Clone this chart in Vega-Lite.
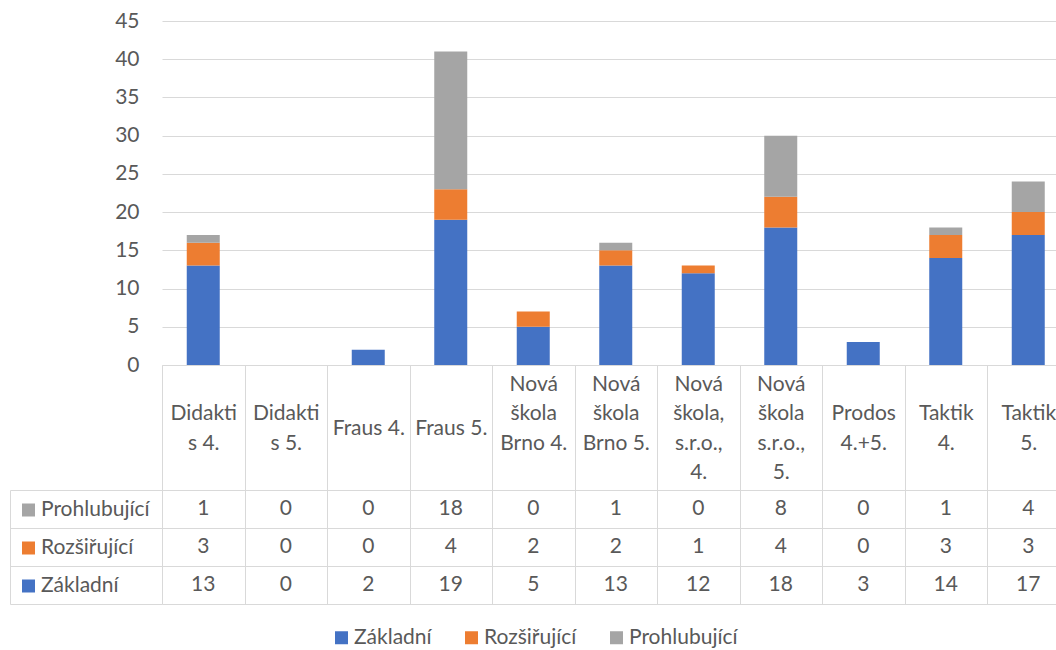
{
  "$schema": "https://vega.github.io/schema/vega-lite/v6.json",
  "width": 894,
  "height": 344,
  "autosize": {"type": "none"},
  "padding": {"left": 162, "top": 21, "right": 0, "bottom": 285},
  "config": {
    "view": {"stroke": null},
    "font": "Lato",
    "text": {"font": "Lato"}
  },
  "data": {
    "values": [
      {"kat": "Didaktis 4.", "serie": "Základní", "hodnota": 13},
      {"kat": "Didaktis 4.", "serie": "Rozšiřující", "hodnota": 3},
      {"kat": "Didaktis 4.", "serie": "Prohlubující", "hodnota": 1},
      {"kat": "Didaktis 5.", "serie": "Základní", "hodnota": 0},
      {"kat": "Didaktis 5.", "serie": "Rozšiřující", "hodnota": 0},
      {"kat": "Didaktis 5.", "serie": "Prohlubující", "hodnota": 0},
      {"kat": "Fraus 4.", "serie": "Základní", "hodnota": 2},
      {"kat": "Fraus 4.", "serie": "Rozšiřující", "hodnota": 0},
      {"kat": "Fraus 4.", "serie": "Prohlubující", "hodnota": 0},
      {"kat": "Fraus 5.", "serie": "Základní", "hodnota": 19},
      {"kat": "Fraus 5.", "serie": "Rozšiřující", "hodnota": 4},
      {"kat": "Fraus 5.", "serie": "Prohlubující", "hodnota": 18},
      {"kat": "Nová škola Brno 4.", "serie": "Základní", "hodnota": 5},
      {"kat": "Nová škola Brno 4.", "serie": "Rozšiřující", "hodnota": 2},
      {"kat": "Nová škola Brno 4.", "serie": "Prohlubující", "hodnota": 0},
      {"kat": "Nová škola Brno 5.", "serie": "Základní", "hodnota": 13},
      {"kat": "Nová škola Brno 5.", "serie": "Rozšiřující", "hodnota": 2},
      {"kat": "Nová škola Brno 5.", "serie": "Prohlubující", "hodnota": 1},
      {"kat": "Nová škola, s.r.o., 4.", "serie": "Základní", "hodnota": 12},
      {"kat": "Nová škola, s.r.o., 4.", "serie": "Rozšiřující", "hodnota": 1},
      {"kat": "Nová škola, s.r.o., 4.", "serie": "Prohlubující", "hodnota": 0},
      {"kat": "Nová škola s.r.o., 5.", "serie": "Základní", "hodnota": 18},
      {"kat": "Nová škola s.r.o., 5.", "serie": "Rozšiřující", "hodnota": 4},
      {"kat": "Nová škola s.r.o., 5.", "serie": "Prohlubující", "hodnota": 8},
      {"kat": "Prodos 4.+5.", "serie": "Základní", "hodnota": 3},
      {"kat": "Prodos 4.+5.", "serie": "Rozšiřující", "hodnota": 0},
      {"kat": "Prodos 4.+5.", "serie": "Prohlubující", "hodnota": 0},
      {"kat": "Taktik 4.", "serie": "Základní", "hodnota": 14},
      {"kat": "Taktik 4.", "serie": "Rozšiřující", "hodnota": 3},
      {"kat": "Taktik 4.", "serie": "Prohlubující", "hodnota": 1},
      {"kat": "Taktik 5.", "serie": "Základní", "hodnota": 17},
      {"kat": "Taktik 5.", "serie": "Rozšiřující", "hodnota": 3},
      {"kat": "Taktik 5.", "serie": "Prohlubující", "hodnota": 4}
    ]
  },
  "layer": [
    {
      "mark": {"type": "bar"},
      "encoding": {
        "x": {
          "field": "kat",
          "type": "nominal",
          "sort": null,
          "scale": {"range": [0, 907.5], "paddingInner": 0.6, "paddingOuter": 0.3},
          "axis": null
        },
        "y": {
          "field": "hodnota",
          "type": "quantitative",
          "aggregate": "sum",
          "stack": "zero",
          "scale": {"domain": [0, 45], "nice": false},
          "axis": {
            "title": null,
            "orient": "left",
            "values": [0, 5, 10, 15, 20, 25, 30, 35, 40, 45],
            "grid": true,
            "gridColor": "#d9d9d9",
            "gridWidth": 1,
            "domain": false,
            "ticks": false,
            "labelPadding": 23,
            "labelFontSize": 21,
            "labelColor": "#595959"
          }
        },
        "color": {
          "field": "serie",
          "type": "nominal",
          "sort": ["Základní", "Rozšiřující", "Prohlubující"],
          "scale": {
            "domain": ["Základní", "Rozšiřující", "Prohlubující"],
            "range": ["#4472C4", "#ED7D31", "#A5A5A5"]
          },
          "legend": {
            "title": null,
            "orient": "none",
            "direction": "horizontal",
            "legendX": 169,
            "legendY": 606,
            "padding": 0,
            "symbolType": "square",
            "symbolSize": 169,
            "symbolStrokeWidth": 0,
            "labelFontSize": 21,
            "labelColor": "#595959",
            "labelOffset": 2,
            "columnPadding": 29
          }
        }
      }
    },
    {
      "mark": {"type": "text", "fontSize": 21, "color": "#595959", "baseline": "middle", "align": "center"},
      "encoding": {
        "x": {
          "field": "kat",
          "type": "nominal",
          "sort": null,
          "scale": {"range": [0, 907.5], "paddingInner": 0, "paddingOuter": 0},
          "axis": {
            "title": null,
            "orient": "bottom",
            "domainColor": "#d9d9d9",
            "domainWidth": 1,
            "tickColor": "#d9d9d9",
            "tickSize": 239,
            "tickBand": "extent",
            "labelPadding": -220,
            "labelBaseline": "middle",
            "labelAlign": "center",
            "labelAngle": 0,
            "labelLineHeight": 14.75,
            "labelFontSize": 21,
            "labelColor": "#595959",
            "labelOverlap": false,
            "labelBound": false,
            "labelFlush": false,
            "labelLimit": 0,
            "labelExpr": "datum.value == 'Didaktis 4.' ? ['\u200b', '\u200b', 'Didakti', '\u200b', 's 4.'] : datum.value == 'Didaktis 5.' ? ['\u200b', '\u200b', 'Didakti', '\u200b', 's 5.'] : datum.value == 'Fraus 4.' ? ['\u200b', '\u200b', '\u200b', 'Fraus 4.'] : datum.value == 'Fraus 5.' ? ['\u200b', '\u200b', '\u200b', 'Fraus 5.'] : datum.value == 'Nová škola Brno 4.' ? ['Nová', '\u200b', 'škola', '\u200b', 'Brno 4.'] : datum.value == 'Nová škola Brno 5.' ? ['Nová', '\u200b', 'škola', '\u200b', 'Brno 5.'] : datum.value == 'Nová škola, s.r.o., 4.' ? ['Nová', '\u200b', 'škola,', '\u200b', 's.r.o.,', '\u200b', '4.'] : datum.value == 'Nová škola s.r.o., 5.' ? ['Nová', '\u200b', 'škola', '\u200b', 's.r.o.,', '\u200b', '5.'] : datum.value == 'Prodos 4.+5.' ? ['\u200b', '\u200b', 'Prodos', '\u200b', '4.+5.'] : datum.value == 'Taktik 4.' ? ['\u200b', '\u200b', 'Taktik', '\u200b', '4.'] : datum.value == 'Taktik 5.' ? ['\u200b', '\u200b', 'Taktik', '\u200b', '5.'] : datum.value"
          }
        },
        "y": {
          "field": "serie",
          "type": "nominal",
          "scale": {
            "type": "band",
            "domain": ["Prohlubující", "Rozšiřující", "Základní"],
            "range": [469, 583],
            "paddingInner": 0,
            "paddingOuter": 0
          },
          "axis": {
            "title": null,
            "orient": "left",
            "offset": 152,
            "domain": true,
            "domainColor": "#d9d9d9",
            "ticks": true,
            "tickBand": "extent",
            "tickSize": -152,
            "tickColor": "#d9d9d9",
            "labels": false,
            "grid": true,
            "gridColor": "#d9d9d9"
          }
        },
        "text": {"field": "hodnota", "type": "quantitative"}
      }
    },
    {
      "mark": {"type": "text", "text": ""},
      "encoding": {
        "fill": {
          "field": "serie",
          "type": "nominal",
          "sort": ["Prohlubující", "Rozšiřující", "Základní"],
          "scale": {
            "domain": ["Prohlubující", "Rozšiřující", "Základní"],
            "range": ["#A5A5A5", "#ED7D31", "#4472C4"]
          },
          "legend": {
            "title": null,
            "orient": "none",
            "direction": "vertical",
            "legendX": -144,
            "legendY": 478.5,
            "padding": 0,
            "symbolType": "square",
            "symbolSize": 169,
            "symbolStrokeWidth": 0,
            "labelFontSize": 21,
            "labelColor": "#595959",
            "labelOffset": 2,
            "rowPadding": 16
          }
        }
      }
    }
  ],
  "resolve": {
    "scale": {"x": "independent", "y": "independent"},
    "axis": {"x": "independent", "y": "independent"}
  }
}
